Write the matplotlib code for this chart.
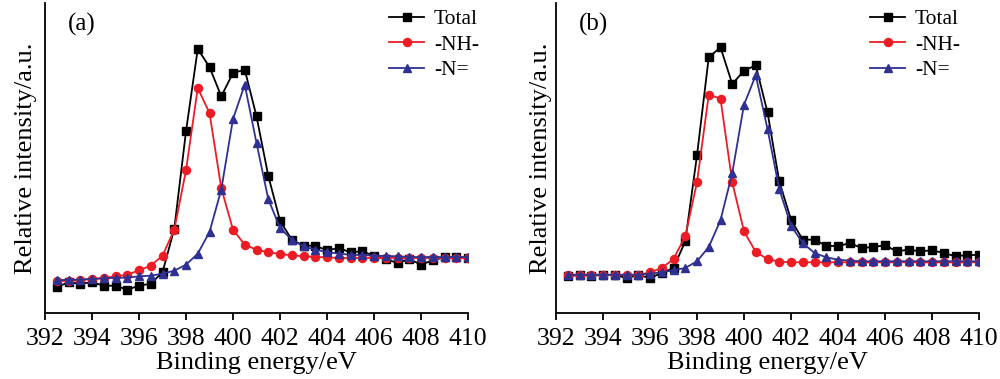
import numpy as np
import matplotlib

matplotlib.use("Agg")
import matplotlib.pyplot as plt

matplotlib.rcParams.update({
    "font.family": "serif",
    "font.serif": ["Liberation Serif", "DejaVu Serif"],
    "axes.linewidth": 1.3,
    "xtick.major.width": 1.3,
    "xtick.major.size": 5.0,
})

# Binding energy grid (eV), one point every 0.5 eV
energy = np.arange(392.5, 410.01, 0.5)

# (a) intensities, a.u.
total_a = [26.0, 30.7, 29.3, 30.7, 27.3, 27.3, 23.3, 27.3, 29.3, 40.7,
           84.0, 181.7, 264.0, 246.0, 216.7, 240.0, 243.3, 196.7, 137.3, 92.3,
           73.3, 67.3, 67.3, 62.7, 65.0, 60.7, 61.7, 57.3, 54.0, 50.0,
           54.0, 48.3, 52.7, 55.7, 55.7, 55.0]
nh_a = [31.7, 32.3, 33.3, 34.0, 35.0, 36.7, 38.3, 42.7, 47.3, 57.3,
        83.3, 142.7, 225.0, 200.0, 125.0, 83.3, 68.3, 63.3, 60.7, 59.0,
        57.7, 56.7, 56.0, 55.7, 55.0, 55.0, 55.0, 55.0, 55.0, 55.0,
        55.0, 55.0, 55.0, 55.0, 55.0, 55.0]
n_a = [32.7, 33.3, 33.3, 34.0, 34.7, 35.3, 35.3, 36.7, 37.3, 39.3,
       42.3, 48.3, 59.3, 81.0, 123.3, 194.0, 228.3, 170.0, 114.0, 85.0,
       73.3, 66.7, 63.3, 61.0, 59.3, 58.3, 58.0, 57.3, 57.0, 56.7,
       56.0, 56.0, 56.0, 56.0, 56.0, 56.0]

# (b) intensities, a.u.
total_b = [36.7, 38.0, 37.3, 38.0, 38.0, 35.0, 38.0, 35.0, 40.0, 45.0,
           71.7, 157.7, 255.7, 265.7, 229.0, 242.3, 247.7, 200.7, 131.7, 93.3,
           73.3, 73.3, 67.3, 66.7, 70.0, 65.0, 66.0, 67.7, 61.7, 63.3,
           61.7, 62.7, 60.0, 56.7, 58.0, 58.0]
nh_b = [38.0, 38.0, 38.0, 38.0, 38.0, 38.0, 38.0, 40.7, 45.0, 54.0,
        76.7, 130.7, 218.3, 214.3, 130.7, 81.7, 61.0, 54.0, 51.3, 50.7,
        50.7, 50.7, 50.7, 50.7, 50.7, 50.7, 50.7, 50.7, 50.7, 50.7,
        50.7, 50.7, 50.7, 50.7, 50.7, 50.7]
n_b = [38.3, 38.3, 38.3, 38.3, 38.3, 38.3, 38.3, 39.3, 40.7, 42.7,
       45.0, 51.7, 66.0, 92.7, 140.0, 208.3, 237.7, 184.0, 124.0, 87.3,
       70.0, 60.0, 55.7, 53.3, 52.3, 51.7, 51.7, 51.7, 51.7, 51.7,
       51.7, 51.7, 51.7, 51.7, 51.7, 51.7]

labels = ["Total", "-NH-", "-N="]
colors = ["#000000", "#ed1c24", "#2e3192"]
markers = ["s", "o", "^"]

# tag, axes rect, legend right edge (axes fraction), ylabel pad, series
panels = [
    ("(a)", [0.045, 66 / 379, 0.423, 310 / 379], 1.026, 6, [total_a, nh_a, n_a]),
    ("(b)", [0.556, 66 / 379, 0.423, 310 / 379], 0.955, 3, [total_b, nh_b, n_b]),
]

fig = plt.figure(figsize=(10, 3.79), dpi=100)

for tag, rect, leg_x, ypad, series in panels:
    ax = fig.add_axes(rect)
    for y, lab, c, m in zip(series, labels, colors, markers):
        ax.plot(energy, y, color=c, marker=m, markersize=5.8, lw=1.3, label=lab)
    ax.set_xlim(392, 410)
    ax.set_ylim(0, 310)
    ax.set_xticks(np.arange(392, 411, 2))
    ax.set_yticks([])
    ax.tick_params(axis="x", labelsize=18.5, pad=6)
    ax.spines["top"].set_visible(False)
    ax.spines["right"].set_visible(False)
    ax.set_xlabel("Binding energy/eV", fontsize=19, labelpad=1)
    ax.set_ylabel("Relative intensity/a.u.", fontsize=19, labelpad=ypad)
    ax.text(0.0875, 0.932, tag, transform=ax.transAxes, fontsize=18,
            ha="center", va="center")
    ax.legend(loc="upper right", bbox_to_anchor=(leg_x, 0.98), frameon=False,
              fontsize=15.5, handlelength=1.6, handletextpad=0.47,
              labelspacing=0.25, borderpad=0, borderaxespad=0)

fig.savefig("out.png", dpi=100)
